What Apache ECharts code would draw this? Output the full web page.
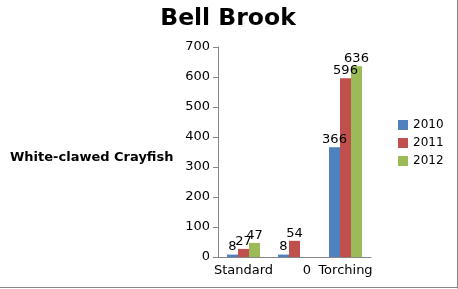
<!DOCTYPE html>
<html><head><meta charset="utf-8">
<script src="https://cdn.jsdelivr.net/npm/echarts@6/dist/echarts.min.js"></script>
<style>html,body{margin:0;padding:0;background:#fff}#c{width:458px;height:289px}</style>
</head><body><div id="c"></div>
<script>
var categories = ['Standard', '      0', 'Torching'];
var years = ['2010', '2011', '2012'];
var v2010 = [8, 8, 366];
var v2011 = [27, 54, 596];
var v2012 = [47, null, 636];
var yTicks = [0, 100, 200, 300, 400, 500, 600, 700];
var colors = ['#4F81BD', '#C0504D', '#9BBB59'];
var font = 'DejaVu Sans';
var chart = echarts.init(document.getElementById('c'), null, {renderer: 'canvas'});
function mk(name, data, i) {
  return {
    name: name, type: 'bar', data: data, barWidth: 11, barGap: '0%',
    itemStyle: {color: colors[i]},
    label: {show: true, position: 'top', distance: 1, color: '#000', fontFamily: font, fontSize: 13,
      formatter: function (p) { return p.value == null ? '' : p.value; }}
  };
}
chart.setOption({
  animation: false,
  textStyle: {fontFamily: font},
  grid: {left: 218, top: 47, width: 153, height: 210, containLabel: false, outerBoundsMode: 'none'},
  legend: {orient: 'vertical', left: 393, top: 114, itemWidth: 10, itemHeight: 10, itemGap: 6,
    icon: 'rect', textStyle: {fontFamily: font, fontSize: 12, color: '#000'}, data: years},
  xAxis: {type: 'category', data: categories,
    axisLine: {lineStyle: {color: '#868686'}}, axisTick: {show: false},
    axisLabel: {color: '#000', fontSize: 13, fontFamily: font, margin: 7, interval: 0}},
  yAxis: {type: 'value', min: yTicks[0], max: yTicks[yTicks.length - 1], interval: 100,
    axisLine: {show: true, lineStyle: {color: '#868686'}},
    axisTick: {show: true, inside: false, length: 5, lineStyle: {color: '#868686'}},
    splitLine: {show: false},
    axisLabel: {color: '#000', fontSize: 13, fontFamily: font, margin: 8}},
  series: [mk(years[0], v2010, 0), mk(years[1], v2011, 1), mk(years[2], v2012, 2)],
  graphic: [
    {type: 'text', x: 228, y: 7, style: {text: 'Bell Brook', fill: '#000', font: 'bold 23.5px "DejaVu Sans"', textAlign: 'center', textVerticalAlign: 'top'}},
    {type: 'text', x: 10, y: 158, style: {text: 'White-clawed Crayfish', fill: '#000', font: 'bold 13px "DejaVu Sans"', textAlign: 'left', textVerticalAlign: 'middle'}},
    {type: 'line', shape: {x1: 457.5, y1: 0, x2: 457.5, y2: 288.5}, style: {stroke: '#868686', lineWidth: 1}},
    {type: 'line', shape: {x1: 0, y1: 287.5, x2: 458, y2: 287.5}, style: {stroke: '#868686', lineWidth: 1}}
  ]
});
</script></body></html>
